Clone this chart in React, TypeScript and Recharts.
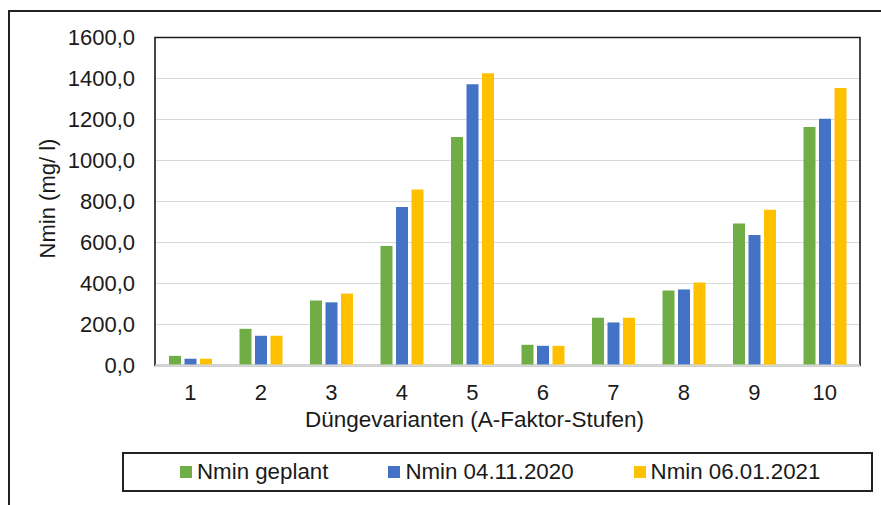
import { BarChart, Bar, XAxis, YAxis, CartesianGrid, Legend, ReferenceArea, ReferenceLine } from "recharts";

const varianten = ["1", "2", "3", "4", "5", "6", "7", "8", "9", "10"];
const nminGeplant = [47, 179, 317, 583, 1115, 101, 233, 366, 693, 1164];
const nmin2020 = [33, 145, 308, 773, 1372, 96, 210, 371, 636, 1204];
const nmin2021 = [33, 145, 351, 858, 1426, 96, 233, 405, 760, 1354];
const yTicks = [0, 200, 400, 600, 800, 1000, 1200, 1400, 1600];

const seriesList = [
  { key: "geplant", name: "Nmin geplant", color: "#70AD47" },
  { key: "n2020", name: "Nmin 04.11.2020", color: "#4472C4" },
  { key: "n2021", name: "Nmin 06.01.2021", color: "#FFC000" },
];

const data = varianten.map((v, i) => ({
  name: v,
  geplant: nminGeplant[i],
  n2020: nmin2020[i],
  n2021: nmin2021[i],
}));

const font = '"Liberation Sans", Arial, sans-serif';
const textColor = "#1a1a1a";

function LegendBox() {
  return (
    <div
      style={{
        boxSizing: "border-box",
        width: "100%",
        height: "100%",
        border: "2px solid #222",
        display: "flex",
        alignItems: "center",
        paddingLeft: 56,
        fontFamily: font,
        fontSize: 22.3,
        color: textColor,
      }}
    >
      {seriesList.map((s, i) => (
        <div key={s.key} style={{ display: "flex", alignItems: "center", marginRight: i < 2 ? 60 : 0 }}>
          <span style={{ width: 12, height: 12, background: s.color, marginRight: 5 }} />
          <span>{s.name}</span>
        </div>
      ))}
    </div>
  );
}

function YLabel(props: any) {
  const vb = props.viewBox;
  const x = 47.5;
  const y = vb.y + vb.height / 2 - 3;
  return (
    <text
      x={x}
      y={y}
      transform={`rotate(-90, ${x}, ${y})`}
      textAnchor="middle"
      dominantBaseline="central"
      fontSize={22}
      fontFamily={font}
      fill={textColor}
    >
      Nmin (mg/ l)
    </text>
  );
}

export default function App() {
  return (
    <div style={{ position: "absolute", left: 0, top: 0, width: 881, height: 505, background: "#fff", overflow: "hidden" }}>
      {/* outer frame, only top and left visible */}
      <div
        style={{
          position: "absolute",
          left: 8,
          top: 10,
          right: -10,
          bottom: -10,
          borderLeft: "2px solid #222",
          borderTop: "2px solid #222",
        }}
      />
      <div style={{ position: "absolute", left: 0, top: 0 }}>
        <BarChart
          width={881}
          height={505}
          data={data}
          margin={{ top: 37.5, right: 21, left: 0, bottom: 13 }}
          barSize={12}
          barGap={3.5}
        >
          <CartesianGrid vertical={false} stroke="#D9D9D9" strokeWidth={1.2} />
          <XAxis
            dataKey="name"
            height={86.5}
            axisLine={false}
            tickLine={false}
            tickSize={0}
            tickMargin={19}
            interval={0}
            tick={{ fontSize: 22, fontFamily: font, fill: textColor }}
            label={{
              value: "Düngevarianten (A-Faktor-Stufen)",
              position: "insideTop",
              offset: 45.5,
              dx: -33,
              fontSize: 22.5,
              fontFamily: font,
              fill: textColor,
            }}
          />
          <YAxis
            width={155}
            domain={[0, 1600]}
            ticks={yTicks}
            axisLine={false}
            tickLine={false}
            tickSize={0}
            tickMargin={20}
            tickFormatter={(v: number) => v.toFixed(1).replace(".", ",")}
            tick={{ fontSize: 22, fontFamily: font, fill: textColor }}
            label={<YLabel />}
          />
          <Legend
            verticalAlign="bottom"
            content={() => <LegendBox />}
            wrapperStyle={{ left: 122, top: 452, width: 751, height: 40 }}
          />
          <ReferenceArea y1={0} y2={1600} fill="none" stroke="#1a1a1a" strokeWidth={1.6} />
          <ReferenceLine y={0} stroke="#D9D9D9" strokeWidth={2} />
          {seriesList.map((s) => (
            <Bar key={s.key} dataKey={s.key} name={s.name} fill={s.color} isAnimationActive={false} />
          ))}
        </BarChart>
      </div>
    </div>
  );
}
